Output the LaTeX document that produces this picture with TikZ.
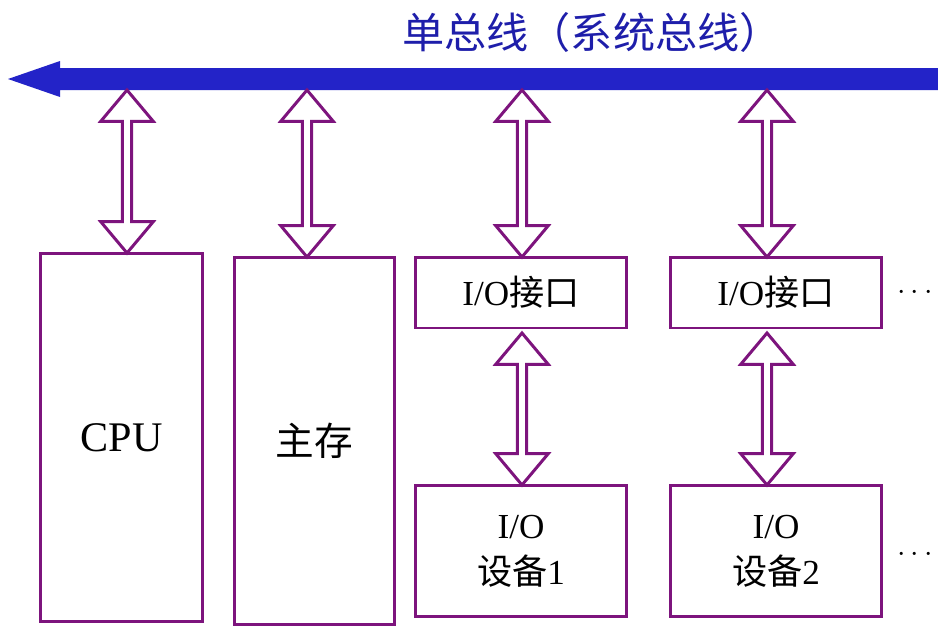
\documentclass[tikz,border=0pt]{standalone}
\usepackage{fontspec}
\setmainfont{Liberation Serif}
\newfontfamily\cjk{Noto Sans CJK SC}
\usetikzlibrary{shapes.arrows}
\definecolor{busblue}{RGB}{35,35,200}
\definecolor{boxpurple}{RGB}{125,20,125}
\tikzset{
  box/.style={rectangle, draw=boxpurple, line width=1.7pt, align=center, font=\fontsize{20}{26}\selectfont},
  dbl/.style={double arrow, draw=boxpurple, fill=white, line width=1.7pt, rotate=90, inner sep=0pt,
    minimum width=1.05cm, double arrow head extend=0.14cm, double arrow tip angle=80},
}
\begin{document}
\begin{tikzpicture}[x=0.02cm, y=-0.02cm]
\useasboundingbox (0,0) rectangle (938,636);
% bus
\fill[busblue] (8,79) -- (60,61) -- (60,68) -- (938,68) -- (938,90) -- (60,90) -- (60,97) -- cycle;
\coordinate (bus) at (473,79);
\node[text=busblue!85!black, font=\cjk\fontsize{24}{28}\selectfont] (title) at (592,32) {单总线（系统总线）};
% units
\node[box, minimum width=3.26cm, minimum height=7.38cm, font=\fontsize{24}{28}\selectfont] (cpu) at (121.5,437.5) {CPU};
\node[box, minimum width=3.22cm, minimum height=7.36cm, font=\cjk\fontsize{22}{26}\selectfont] (mem) at (314.5,441) {主存};
\node[box, minimum width=4.24cm, minimum height=1.42cm] (if1) at (521,292.5) {I/O{\cjk 接口}};
\node[box, minimum width=4.24cm, minimum height=1.42cm] (if2) at (776,292.5) {I/O{\cjk 接口}};
\node[box, minimum width=4.24cm, minimum height=2.64cm] (dev1) at (521,551) {I/O\\{\cjk 设备}1};
\node[box, minimum width=4.24cm, minimum height=2.64cm] (dev2) at (776,551) {I/O\\{\cjk 设备}2};
\node[font=\fontsize{16}{20}\selectfont] (dots1) at (915,293) {$\cdots$};
\node[font=\fontsize{16}{20}\selectfont] (dots2) at (915,555) {$\cdots$};
% arrows
\node[dbl, minimum height=3.26cm] (a1) at (127,171.5) {};
\node[dbl, minimum height=3.34cm] (a2) at (307,173.5) {};
\node[dbl, minimum height=3.34cm] (a3) at (522,173.5) {};
\node[dbl, minimum height=3.34cm] (a4) at (767,173.5) {};
\node[dbl, minimum height=3.04cm] (a5) at (522,409) {};
\node[dbl, minimum height=3.04cm] (a6) at (767,409) {};
\end{tikzpicture}
\end{document}
